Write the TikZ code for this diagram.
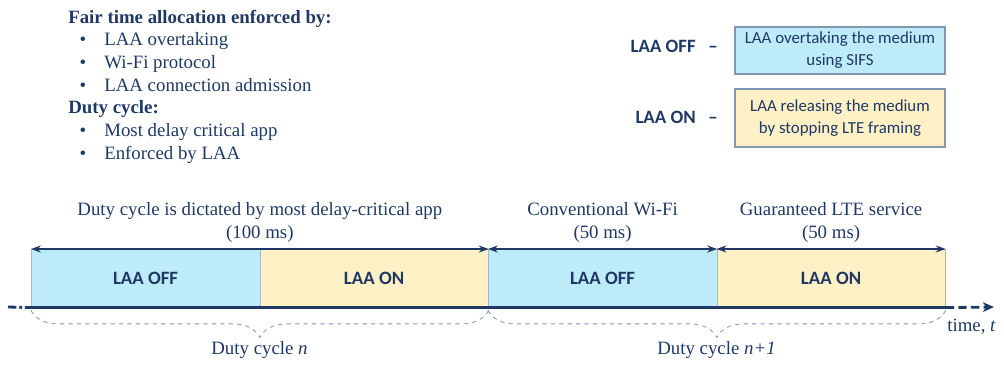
\documentclass[tikz,border=0pt]{standalone}
\usepackage{fontspec}
\setmainfont{Liberation Serif}
\newfontfamily\calib{Carlito}
\usetikzlibrary{arrows.meta,positioning,calc,decorations.pathreplacing}
\definecolor{navy}{HTML}{1F3864}
\definecolor{offblue}{HTML}{BEEBFA}
\definecolor{onyellow}{HTML}{FFF0C6}
\definecolor{edgegray}{HTML}{8497B0}

\begin{document}
\begin{tikzpicture}[x=0.025cm,y=-0.025cm,
  serif/.style={font=\fontsize{13.4}{16.3}\selectfont,text=navy,inner sep=0pt},
  sans/.style={font=\calib\fontsize{12}{15.6}\selectfont,text=navy,inner sep=0pt},
  bsans/.style={sans,font=\calib\bfseries\fontsize{13.4}{15}\selectfont},
  note/.style={sans,draw=edgegray,line width=0.9pt,minimum width=5.25cm,align=center},
  seg/.style={draw=edgegray!70,line width=0.4pt,minimum width=5.7125cm,minimum height=1.45cm,
    inner sep=0pt,font=\calib\bfseries\fontsize{13.4}{15}\selectfont,text=navy},
  dur/.style={navy,line width=1.4pt,{Stealth[length=7pt,width=5pt]}-{Stealth[length=7pt,width=5pt]}},
  axis/.style={navy,line width=2pt},
  cyc/.style={edgegray,line width=0.6pt,dashed,decorate,decoration={brace,mirror,amplitude=0.675cm}}]
\useasboundingbox (0,0) rectangle (1004,364);

% list on the left
\node[serif,font=\fontsize{13.4}{16.3}\selectfont\bfseries,anchor=base west] (fair) at (68,23) {Fair time allocation enforced by:};
\node[serif,font=\fontsize{13.4}{16.3}\selectfont\bfseries,anchor=base west] (duty) at (68,113) {Duty cycle:};
\foreach \n/\y/\t in {b1/45/LAA overtaking, b2/68/Wi-Fi protocol, b3/91.5/LAA connection admission,
                      b4/136.5/Most delay critical app, b5/159/Enforced by LAA}{
  \node[serif,anchor=base] (\n-dot) at (83,\y) {\textbullet};
  \node[serif,anchor=base west] (\n) at (104,\y) {\t};}

% legend on the right
\node[note,fill=offblue,minimum height=1.175cm] (offnote) at (840,50.5) {LAA overtaking the medium\\using SIFS};
\node[note,fill=onyellow,minimum height=1.45cm] (onnote) at (840,118) {LAA releasing the medium\\by stopping LTE framing};
\node[bsans,anchor=base east] (offlbl) at (696,52) {LAA OFF};
\node[bsans,anchor=base] (offdash) at (713,52) {–};
\node[bsans,anchor=base east] (onlbl) at (696,123) {LAA ON};
\node[bsans,anchor=base] (ondash) at (713,123) {–};

% time line
\foreach \i/\x/\c/\t in {1/31/offblue/LAA OFF, 2/259.5/onyellow/LAA ON,
                         3/488/offblue/LAA OFF, 4/716.5/onyellow/LAA ON}
  \node[seg,fill=\c,anchor=north west] (s\i) at (\x,249) {\t};

\draw[dur] (s1.north west) -- node[serif,align=center,above=4pt] (dlbl) {Duty cycle is dictated by most delay-critical app\\(100 ms)} (s2.north east);
\draw[dur] (s3.north west) -- node[serif,align=center,above=4pt] (wlbl) {Conventional Wi-Fi\\(50 ms)} (s3.north east);
\draw[dur] (s4.north west) -- node[serif,align=center,above=4pt] (llbl) {Guaranteed LTE service\\(50 ms)} (s4.north east);

\coordinate (ax0) at (8,307);
\coordinate (ax1) at (994,307);
\draw[axis,dash pattern=on 6pt off 2pt on 2pt off 2pt] (ax0) -- (s1.south west);
\draw[axis] (s1.south west) -- (s4.south east);
\draw[axis,dash pattern=on 6pt off 3pt,-{Stealth[length=8pt,width=7pt]}] (s4.south east) -- (ax1);
\node[serif,anchor=base west] (tlbl) at (947,331) {time, \textit{t}};

% duty cycles
\draw[cyc] ([yshift=-2pt]s1.south west) -- ([yshift=-2pt]s2.south east);
\draw[cyc] ([yshift=-2pt]s3.south west) -- ([yshift=-2pt]s4.south east);
\node[serif,anchor=base] (cyc1) at (259.5,354) {Duty cycle \textit{n}};
\node[serif,anchor=base] (cyc2) at (716.5,354) {Duty cycle \textit{n+1}};
\end{tikzpicture}
\end{document}
